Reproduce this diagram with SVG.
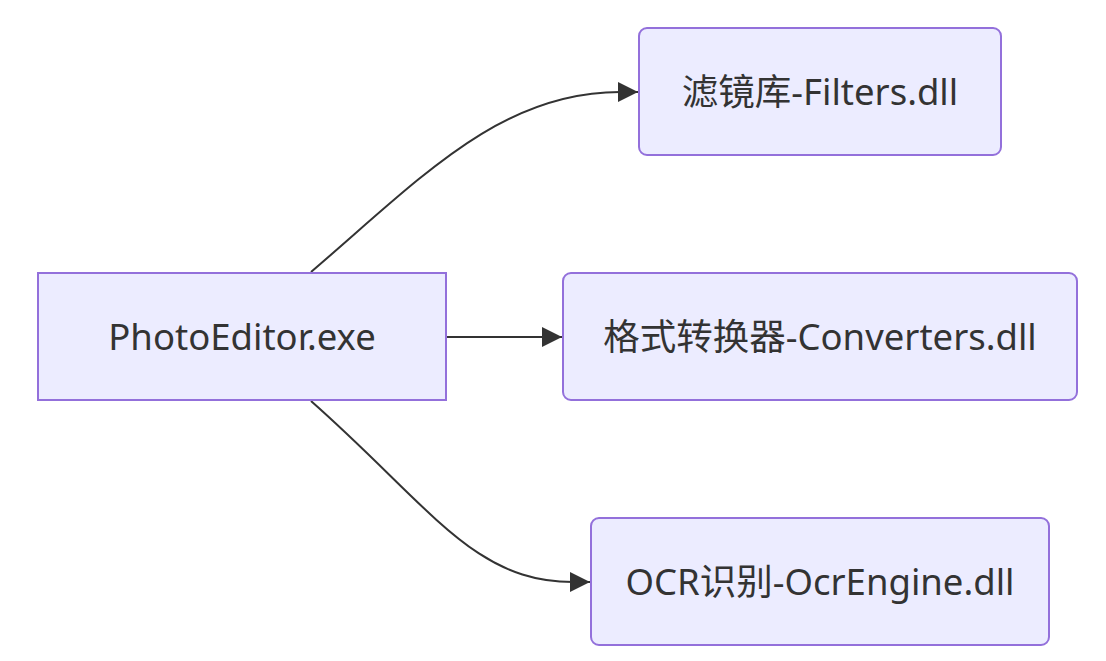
<svg xmlns="http://www.w3.org/2000/svg" width="1106" height="661" viewBox="0 0 1106 661">
<style>
.node rect{fill:#ECECFF;stroke:#9370DB;stroke-width:2}
.node text{fill:#333333;font-family:"Noto Sans","Noto Sans CJK SC",sans-serif;font-size:36.5px;text-anchor:middle;dominant-baseline:central}
.edge{fill:none;stroke:#333333;stroke-width:2}
</style>
<defs>
<marker id="arrow" markerUnits="userSpaceOnUse" markerWidth="20" markerHeight="20" refX="18" refY="9" orient="auto" viewBox="0 0 18 18">
<path d="M0,0 L18,9 L0,18 Z" fill="#333333"/>
</marker>
</defs>
<rect width="1106" height="661" fill="#FFFFFF"/>
<g id="connectors">
<path class="edge" d="M311,272 C421,178 500,92 620,92 L638,92" marker-end="url(#arrow)"/>
<path class="edge" d="M446,337 L562,337" marker-end="url(#arrow)"/>
<path class="edge" d="M311,401 C431,507 473,582 573,582 L590,582" marker-end="url(#arrow)"/>
</g>
<g id="photoeditor" class="node">
<rect x="38" y="273" width="408" height="127"/>
<text x="242" y="336">PhotoEditor.exe</text>
</g>
<g id="filters" class="node">
<rect x="639" y="28" width="362" height="127" rx="8" ry="8"/>
<text x="820" y="91">滤镜库-Filters.dll</text>
</g>
<g id="converters" class="node">
<rect x="563" y="273" width="514" height="127" rx="8" ry="8"/>
<text x="820" y="336">格式转换器-Converters.dll</text>
</g>
<g id="ocr" class="node">
<rect x="591" y="518" width="458" height="127" rx="8" ry="8"/>
<text x="820" y="581">OCR识别-OcrEngine.dll</text>
</g>
</svg>
